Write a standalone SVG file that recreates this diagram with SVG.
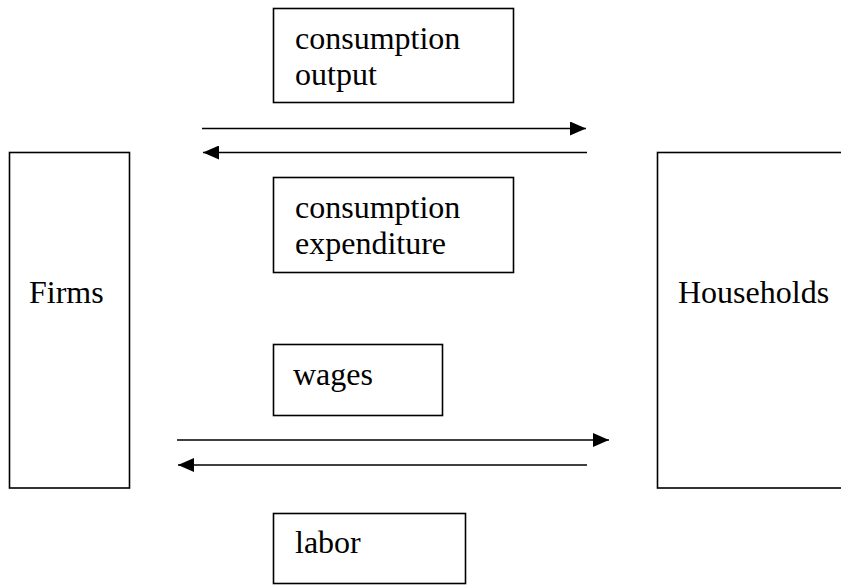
<svg xmlns="http://www.w3.org/2000/svg" width="841" height="585" viewBox="0 0 841 585">
<style>
.box{fill:#fff;stroke:#000;stroke-width:1.6}
.t{font-family:"Liberation Serif","Times New Roman",serif;font-size:32px;fill:#000}
.c{stroke:#000;stroke-width:1.5;fill:none}
</style>
<defs>
<marker id="ah" viewBox="0 0 16 14" refX="16" refY="7" markerWidth="16" markerHeight="14" markerUnits="userSpaceOnUse" orient="auto">
<path d="M0,0 L16,7 L0,14 Z" fill="#000"/>
</marker>
</defs>
<rect width="841" height="585" fill="#fff"/>
<g id="firms">
<rect class="box" x="9.5" y="152.5" width="120" height="335.5"/>
<text class="t" x="29" y="303">Firms</text>
</g>
<g id="households">
<rect class="box" x="657.5" y="152.5" width="200" height="335.5"/>
<text class="t" x="678" y="303">Households</text>
</g>
<g id="consumption-output">
<rect class="box" x="273.5" y="8.5" width="240" height="94"/>
<text class="t" x="295" y="49">consumption</text>
<text class="t" x="295" y="85">output</text>
</g>
<g id="consumption-expenditure">
<rect class="box" x="273.5" y="177.5" width="240" height="95"/>
<text class="t" x="295" y="218">consumption</text>
<text class="t" x="295" y="254">expenditure</text>
</g>
<g id="wages">
<rect class="box" x="273.5" y="344.5" width="169" height="71"/>
<text class="t" x="293" y="385">wages</text>
</g>
<g id="labor">
<rect class="box" x="273.5" y="513.5" width="192" height="70"/>
<text class="t" x="295" y="553">labor</text>
</g>
<g id="connectors">
<line class="c" x1="202" y1="128.5" x2="586" y2="128.5" marker-end="url(#ah)"/>
<line class="c" x1="587" y1="152.5" x2="203" y2="152.5" marker-end="url(#ah)"/>
<line class="c" x1="177" y1="440" x2="609" y2="440" marker-end="url(#ah)"/>
<line class="c" x1="587" y1="465" x2="178" y2="465" marker-end="url(#ah)"/>
</g>
</svg>
